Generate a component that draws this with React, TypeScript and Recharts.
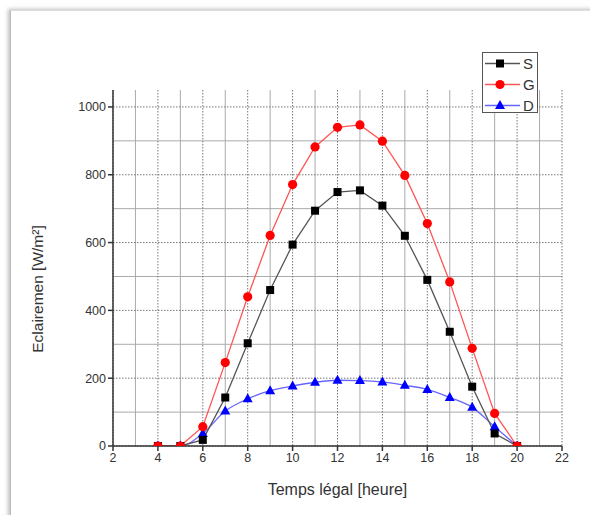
import React from "react";
import { LineChart, Line, XAxis, YAxis, CartesianGrid, Label } from "recharts";

const hours = [4, 5, 6, 7, 8, 9, 10, 11, 12, 13, 14, 15, 16, 17, 18, 19, 20];
const sValues = [0, 0, 18, 143, 303, 460, 594, 694, 749, 754, 709, 620, 490, 337, 175, 37, 0];
const gValues = [0, 0, 57, 246, 440, 621, 771, 882, 940, 947, 899, 798, 656, 484, 288, 96, 0];
const dValues = [0, 0, 37, 103, 139, 163, 177, 188, 194, 193, 189, 179, 167, 143, 114, 57, 0];
const xTicks = [2, 4, 6, 8, 10, 12, 14, 16, 18, 20, 22];
const yTicks = [0, 200, 400, 600, 800, 1000];
const xMinor = [3, 5, 7, 9, 11, 13, 15, 17, 19, 21];
const yMinor = [100, 300, 500, 700, 900];

const data = hours.map((h, i) => ({ h, S: sValues[i], G: gValues[i], D: dValues[i] }));

const FONT = "'Liberation Sans', Arial, sans-serif";

const Square = (p: any) => {
  const { cx, cy, key } = p;
  return <rect key={key} x={cx - 4} y={cy - 4} width={8} height={8} fill="#000" />;
};
const Circle = (p: any) => {
  const { cx, cy, key } = p;
  return <circle key={key} cx={cx} cy={cy} r={4.6} fill="#ff0000" />;
};
const Tri = (p: any) => {
  const { cx, cy, key } = p;
  return <polygon key={key} points={`${cx},${cy - 5.5} ${cx - 5},${cy + 3.5} ${cx + 5},${cy + 3.5}`} fill="#0000ff" />;
};

const legendItems = [
  { name: "S", color: "#555", fill: "#000", shape: "square" },
  { name: "G", color: "#ff5555", fill: "#ff0000", shape: "circle" },
  { name: "D", color: "#6666ff", fill: "#0000ff", shape: "tri" },
];

const LegendBox = () => (
  <svg width={57} height={62} style={{ display: "block" }}>
    <rect x={0.5} y={0.5} width={55} height={60} fill="#fff" stroke="#555" strokeWidth={1} />
    {legendItems.map((it, i) => {
      const y = 11.5 + i * 21;
      return (
        <g key={it.name}>
          <line x1={3} y1={y} x2={38} y2={y} stroke={it.color} strokeWidth={1.3} />
          {it.shape === "square" && <rect x={14} y={y - 4} width={8} height={8} fill={it.fill} />}
          {it.shape === "circle" && <circle cx={18} cy={y} r={4.6} fill={it.fill} />}
          {it.shape === "tri" && <polygon points={`18,${y - 5.5} 13,${y + 3.5} 23,${y + 3.5}`} fill={it.fill} />}
          <text x={41} y={y + 5.5} fontSize={15} fontFamily={FONT} fill="#333">{it.name}</text>
        </g>
      );
    })}
  </svg>
);

export default function App() {
  return (
    <div style={{ position: "absolute", left: 0, top: 0, width: 590, height: 515, background: "#fff", overflow: "hidden" }}>
      <div
        style={{
          position: "absolute",
          left: 10,
          top: 10,
          width: 620,
          height: 560,
          background: "#fff",
          borderLeft: "1px solid #bbb",
          borderTop: "1px solid #ddd",
          boxShadow: "-2px -1px 4px rgba(0,0,0,0.25)",
        }}
      />
      <div style={{ position: "absolute", left: 0, top: 0 }}>
        <LineChart width={590} height={515} data={data} margin={{ top: 90, right: 28, bottom: 14, left: 33 }}>
          <CartesianGrid
            stroke="#aaa"
            strokeWidth={1}
            horizontalValues={yMinor}
            verticalValues={xMinor}
          />
          <CartesianGrid
            stroke="#777"
            strokeDasharray="1.5 1.5"
            strokeWidth={1}
            horizontalValues={yTicks}
            verticalValues={xTicks}
          />
          <XAxis
            dataKey="h"
            type="number"
            domain={[2, 22]}
            ticks={xTicks}
            height={55}
            axisLine={{ stroke: "#333", strokeWidth: 1.5 }}
            tickLine={{ stroke: "#333", strokeWidth: 1.5 }}
            tickSize={5}
            tick={{ fill: "#333", fontSize: 12.5, fontFamily: FONT }}
            interval={0}
          >
            <Label value="Temps légal [heure]" position="insideBottom" offset={6} style={{ fontSize: 16, fontFamily: FONT, fill: "#333" }} />
          </XAxis>
          <YAxis
            type="number"
            domain={[0, 1050]}
            ticks={yTicks}
            width={80}
            allowDataOverflow
            axisLine={{ stroke: "#333", strokeWidth: 1.5 }}
            tickLine={{ stroke: "#333", strokeWidth: 1.5 }}
            tickSize={5}
            tick={{ fill: "#333", fontSize: 12.5, fontFamily: FONT }}
            interval={0}
          />
          <Line dataKey="D" type="monotone" stroke="#6666ff" strokeWidth={1.3} dot={Tri} isAnimationActive={false} />
          <Line dataKey="S" type="linear" stroke="#555" strokeWidth={1.3} dot={Square} isAnimationActive={false} />
          <Line dataKey="G" type="linear" stroke="#ff5555" strokeWidth={1.3} dot={Circle} isAnimationActive={false} />
        </LineChart>
      </div>
      <div style={{ position: "absolute", left: 482, top: 52 }}>
        <LegendBox />
      </div>
      <div
        style={{
          position: "absolute",
          left: 38,
          top: 289,
          transform: "translate(-50%, -50%) rotate(-90deg)",
          whiteSpace: "nowrap",
          fontFamily: FONT,
          fontSize: 15.5,
          color: "#333",
          lineHeight: "16px",
        }}
      >
        Eclairemen [W/m²]
      </div>
    </div>
  );
}
